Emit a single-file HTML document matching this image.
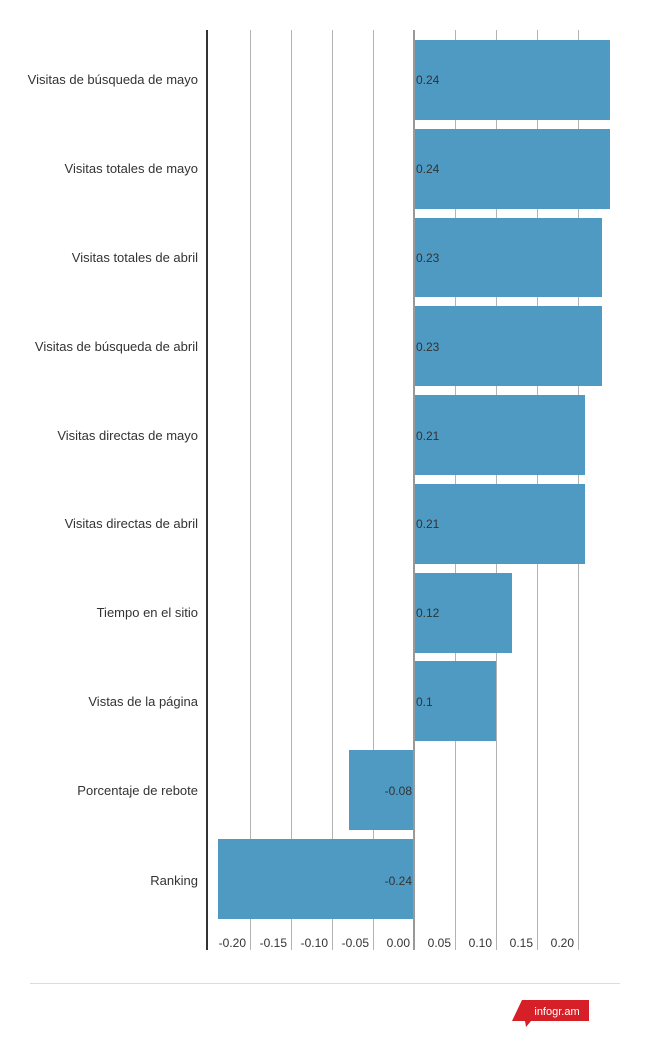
<!DOCTYPE html>
<html><head><style>
body{margin:0;background:#fff;}
svg{display:block;font-family:"Liberation Sans",Arial,sans-serif;}
</style></head><body>
<svg width="650" height="1045" viewBox="0 0 650 1045">
<g stroke="#b3b3b3" stroke-width="1">
<line x1="250.5" y1="30" x2="250.5" y2="950"/>
<line x1="291.5" y1="30" x2="291.5" y2="950"/>
<line x1="332.5" y1="30" x2="332.5" y2="950"/>
<line x1="373.5" y1="30" x2="373.5" y2="950"/>
<line x1="455.5" y1="30" x2="455.5" y2="950"/>
<line x1="496.5" y1="30" x2="496.5" y2="950"/>
<line x1="537.5" y1="30" x2="537.5" y2="950"/>
<line x1="578.5" y1="30" x2="578.5" y2="950"/>
</g>
<g fill="#4f9ac2">
<rect x="414" y="40" width="196" height="80"/>
<rect x="414" y="129" width="196" height="80"/>
<rect x="414" y="218" width="188" height="79"/>
<rect x="414" y="306" width="188" height="80"/>
<rect x="414" y="395" width="171" height="80"/>
<rect x="414" y="484" width="171" height="80"/>
<rect x="414" y="573" width="98" height="80"/>
<rect x="414" y="661" width="82" height="80"/>
<rect x="349" y="750" width="65" height="80"/>
<rect x="218" y="839" width="196" height="80"/>
</g>
<line x1="414" y1="30" x2="414" y2="950" stroke="#999" stroke-width="2"/>
<line x1="207" y1="30" x2="207" y2="950" stroke="#333" stroke-width="2"/>
<g font-size="13" fill="#333" text-anchor="end">
<text x="198" y="84">Visitas de búsqueda de mayo</text>
<text x="198" y="173">Visitas totales de mayo</text>
<text x="198" y="262">Visitas totales de abril</text>
<text x="198" y="351">Visitas de búsqueda de abril</text>
<text x="198" y="440">Visitas directas de mayo</text>
<text x="198" y="528">Visitas directas de abril</text>
<text x="198" y="617">Tiempo en el sitio</text>
<text x="198" y="706">Vistas de la página</text>
<text x="198" y="795">Porcentaje de rebote</text>
<text x="198" y="885">Ranking</text>
</g>
<g font-size="12" fill="#333">
<text x="416" y="84">0.24</text>
<text x="416" y="173">0.24</text>
<text x="416" y="262">0.23</text>
<text x="416" y="351">0.23</text>
<text x="416" y="440">0.21</text>
<text x="416" y="528">0.21</text>
<text x="416" y="617">0.12</text>
<text x="416" y="706">0.1</text>
<text x="412" y="795" text-anchor="end">-0.08</text>
<text x="412" y="885" text-anchor="end">-0.24</text>
</g>
<g font-size="12" fill="#333" text-anchor="end">
<text x="246" y="947">-0.20</text>
<text x="287" y="947">-0.15</text>
<text x="328" y="947">-0.10</text>
<text x="369" y="947">-0.05</text>
<text x="410" y="947">0.00</text>
<text x="451" y="947">0.05</text>
<text x="492" y="947">0.10</text>
<text x="533" y="947">0.15</text>
<text x="574" y="947">0.20</text>
</g>
<line x1="30" y1="983.5" x2="620" y2="983.5" stroke="#ddd" stroke-width="1"/>
<polygon points="522,1000 589,1000 589,1021 531,1021 526,1027 525,1021 512,1021" fill="#d61f26"/>
<text x="557" y="1015" font-size="11" fill="#fff" text-anchor="middle">infogr.am</text>
</svg>
</body></html>
